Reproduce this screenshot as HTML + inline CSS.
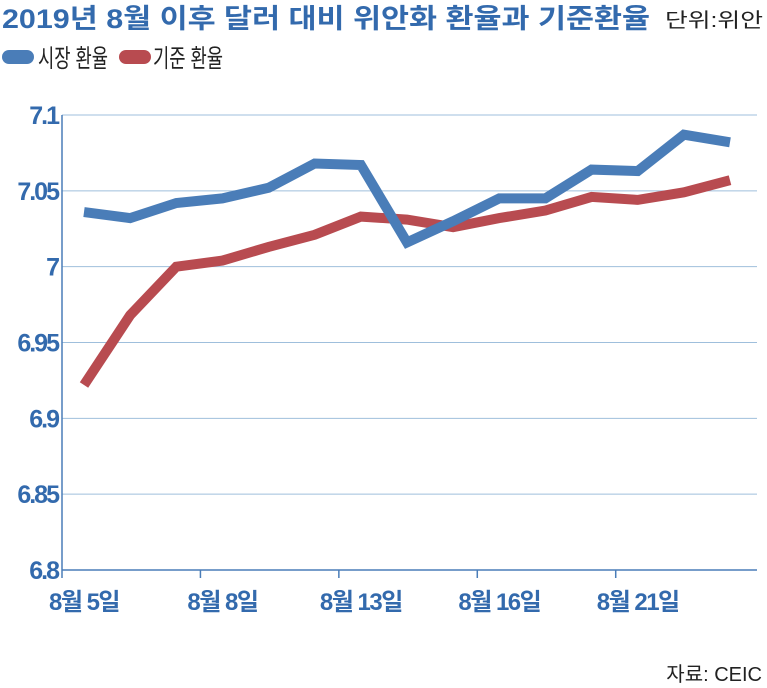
<!DOCTYPE html>
<html><head><meta charset="utf-8"><style>
html,body{margin:0;padding:0;background:#fff;}
svg{display:block;font-family:"Liberation Sans","Noto Sans CJK KR",sans-serif;}
</style></head><body>
<svg id="chart" width="767" height="688" viewBox="0 0 767 688" xmlns="http://www.w3.org/2000/svg">
<text x="2" y="28" font-size="27" font-weight="bold" fill="#336aad" textLength="648" lengthAdjust="spacingAndGlyphs">2019년 8월 이후 달러 대비 위안화 환율과 기준환율</text>
<text x="665" y="27" font-size="20" fill="#222" textLength="98" lengthAdjust="spacingAndGlyphs">단위:위안</text>
<g>
<rect x="2" y="50" width="32" height="14" rx="7" fill="#4a7db8"/>
<text x="38" y="67" font-size="25" fill="#222" textLength="70" lengthAdjust="spacingAndGlyphs">시장 환율</text>
<rect x="119" y="50" width="32" height="14" rx="7" fill="#b84b50"/>
<text x="153" y="67" font-size="25" fill="#222" textLength="70" lengthAdjust="spacingAndGlyphs">기준 환율</text>
</g>
<g id="grid"></g><g id="axes"></g><g id="series"></g>
<text x="762" y="681" font-size="20" fill="#222" text-anchor="end">자료: CEIC</text>
</svg>
<script>
const categories=["8/5","8/6","8/7","8/8","8/9","8/12","8/13","8/14","8/15","8/16","8/19","8/20","8/21","8/22","8/23"];
const marketRate=[7.036,7.032,7.042,7.045,7.052,7.068,7.067,7.016,7.030,7.045,7.045,7.064,7.063,7.087,7.082];
const referenceRate=[6.922,6.968,7.000,7.004,7.013,7.021,7.033,7.031,7.026,7.032,7.037,7.046,7.044,7.049,7.057];
const yTicks=[6.8,6.85,6.9,6.95,7,7.05,7.1];
const yTickLabels=["6.8","6.85","6.9","6.95","7","7.05","7.1"];
const xLabelIdx=[0,3,6,9,12];
const xLabels=["8월 5일","8월 8일","8월 13일","8월 16일","8월 21일"];

const NS="http://www.w3.org/2000/svg";
const L=62,R=757,T=115,B=570,yMin=6.8,yMax=7.1;
const x0=84,x1=730;
const X=i=>x0+(x1-x0)*i/(categories.length-1);
const Y=v=>B-(v-yMin)/(yMax-yMin)*(B-T);
function mk(tag,attrs,parent){const e=document.createElementNS(NS,tag);for(const k in attrs)e.setAttribute(k,attrs[k]);parent.appendChild(e);return e;}
const grid=document.getElementById('grid'),axes=document.getElementById('axes'),series=document.getElementById('series');
yTicks.forEach((v,i)=>{
  if(i>0){const g=mk('line',{x1:L,x2:R,y1:Y(v),y2:Y(v),stroke:'#9fbfdc','stroke-width':1},grid);
  
  }
  const t=mk('text',{x:L-4,y:Y(v)+9,'font-size':25,'font-weight':'bold',fill:'#336aad','text-anchor':'end','letter-spacing':'-2'},axes);
  t.textContent=yTickLabels[i];
  
  
});
const ya=mk('line',{x1:L,x2:L,y1:T,y2:B,stroke:'#4a7db8','stroke-width':1.5},axes);


const xa=mk('line',{x1:L,x2:R,y1:B,y2:B,stroke:'#4a7db8','stroke-width':1.5},axes);


xLabelIdx.forEach((ci,i)=>{
  const tk=mk('line',{x1:X(ci)-22,x2:X(ci)-22,y1:B,y2:B+8,stroke:'#4a7db8','stroke-width':1.5},axes);
  
  
  const t=mk('text',{x:X(ci),y:B+40,'font-size':24,'font-weight':'bold',fill:'#336aad','text-anchor':'middle','letter-spacing':'-1.5'},axes);
  t.textContent=xLabels[i];
  
  
});
function line(vals,color,name){
  const d=vals.map((v,i)=>(i?'L':'M')+X(i).toFixed(1)+' '+Y(v).toFixed(1)).join(' ');
  const p=mk('path',{d:d,fill:'none',stroke:color,'stroke-width':10,'stroke-linejoin':'miter','stroke-linecap':'butt'},series);
  
  
}
line(referenceRate,'#b84b50','reference-rate-line');
line(marketRate,'#4a7db8','market-rate-line');
</script>
</body></html>
